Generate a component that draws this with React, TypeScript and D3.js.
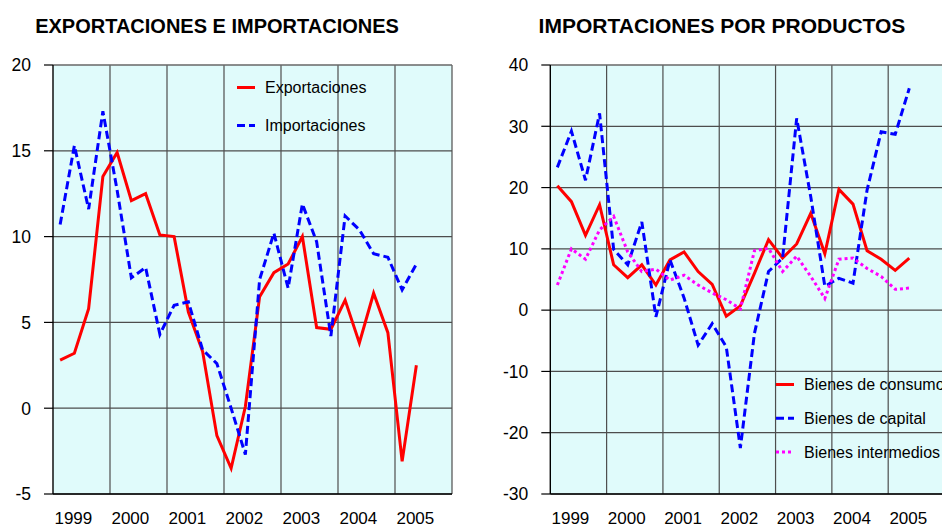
import React from 'react';
import * as d3 from 'd3';

const years = ['1999', '2000', '2001', '2002', '2003', '2004', '2005'];
const quarterNames = ['I', 'II', 'III', 'IV'];
const quarters: string[] = [];
years.forEach(y => quarterNames.forEach(q => quarters.push(`${y}-${q}`)));

const leftTicks = [-5, 0, 5, 10, 15, 20];
const rightTicks = [-30, -20, -10, 0, 10, 20, 30, 40];

const exportaciones = [2.8, 3.2, 5.8, 13.5, 14.9, 12.1, 12.5, 10.1, 10.0, 5.6, 3.3, -1.6, -3.5, 0.1, 6.5, 7.9, 8.4, 10.0, 4.7, 4.6, 6.3, 3.8, 6.7, 4.4, -3.1, 2.5];
const importaciones = [10.7, 15.3, 11.6, 17.3, 12.7, 7.6, 8.2, 4.3, 6.0, 6.2, 3.4, 2.6, 0.0, -2.7, 7.5, 10.2, 7.0, 11.9, 9.7, 4.2, 11.2, 10.4, 9.0, 8.8, 6.9, 8.4];

const consumo = [20.3, 17.7, 12.2, 17.2, 7.4, 5.3, 7.4, 4.1, 8.2, 9.5, 6.3, 4.2, -1.0, 0.7, 6.0, 11.5, 8.5, 10.8, 15.8, 9.2, 19.7, 17.3, 9.7, 8.3, 6.5, 8.5];
const capital = [23.3, 29.2, 21.2, 32.1, 9.9, 7.4, 14.4, -1.1, 8.2, 2.0, -5.7, -2.2, -6.0, -22.5, -3.8, 6.3, 8.5, 31.3, 18.5, 3.9, 5.2, 4.4, 19.6, 29.1, 28.7, 36.2];
const intermedios = [4.1, 10.0, 8.3, 13.1, 15.3, 9.5, 6.3, 6.7, 4.9, 5.7, 4.1, 2.8, 1.7, 0.2, 9.7, 10.1, 6.3, 8.8, 5.5, 1.9, 8.3, 8.5, 6.8, 5.5, 3.4, 3.6];

const FONT = '"Liberation Sans", Arial, Helvetica, sans-serif';

type Series = { name: string; values: number[]; color: string; dash?: string };

interface PanelProps {
  title: string;
  titleX: number;
  titleSize: number;
  x0: number;
  x1: number;
  y0: number;
  y1: number;
  domain: [number, number];
  ticks: number[];
  series: Series[];
  legendX: number;
  legendY: number;
  legendGap: number;
}

function Panel(p: PanelProps) {
  const x = d3.scaleBand<string>().domain(quarters).range([p.x0, p.x1]).padding(0);
  const y = d3.scaleLinear().domain(p.domain).range([p.y1, p.y0]);
  const bw = x.bandwidth();
  const cx = (i: number) => (x(quarters[i]) as number) + bw / 2;
  const line = d3.line<number>().x((_, i) => cx(i)).y(v => y(v));
  const gridColor = '#4d4d4d';
  const yearBounds = years.map(yr => x(`${yr}-I`) as number).slice(1);
  return (
    <g>
      <text x={p.titleX} y={33} textAnchor="middle" fontFamily={FONT} fontWeight="bold" fontSize={p.titleSize} fill="#000">{p.title}</text>
      <rect x={p.x0} y={p.y0} width={p.x1 - p.x0} height={p.y1 - p.y0} fill="#e0fbfb" stroke="none" />
      {p.ticks.map(t => (
        <line key={'h' + t} x1={p.x0} x2={p.x1} y1={y(t)} y2={y(t)} stroke={gridColor} strokeWidth={1.2} />
      ))}
      {yearBounds.map((b, k) => (
        <line key={'v' + k} x1={b} x2={b} y1={p.y0} y2={p.y1} stroke={gridColor} strokeWidth={1.2} />
      ))}
      <line x1={p.x1} x2={p.x1} y1={p.y0} y2={p.y1} stroke={gridColor} strokeWidth={1.2} />
      <line x1={p.x0} x2={p.x1} y1={p.y0} y2={p.y0} stroke="#777" strokeWidth={1.2} />
      <line x1={p.x0} x2={p.x0} y1={p.y0} y2={p.y1} stroke="#000" strokeWidth={1.4} />
      <line x1={p.x0} x2={p.x1} y1={p.y1} y2={p.y1} stroke="#000" strokeWidth={1.4} />
      {p.ticks.map(t => (
        <g key={'t' + t}>
          <line x1={p.x0 - 9} x2={p.x0} y1={y(t)} y2={y(t)} stroke="#000" strokeWidth={1.2} />
          <text x={p.x0 - 22} y={y(t)} dy="0.36em" textAnchor="end" fontFamily={FONT} fontSize={17.5} fill="#000">{t}</text>
        </g>
      ))}
      {years.map(yr => (
        <text key={'x' + yr} x={cx(quarters.indexOf(`${yr}-II`)) - 1} y={523.5} textAnchor="middle" fontFamily={FONT} fontSize={17} fill="#000">{yr}</text>
      ))}
      {p.series.map(s => (
        <path key={s.name} d={line(s.values) || ''} fill="none" stroke={s.color} strokeWidth={3} strokeDasharray={s.dash} strokeLinejoin="miter" />
      ))}
      {p.series.map((s, k) => (
        <g key={'l' + s.name}>
          <line x1={p.legendX} x2={p.legendX + 18} y1={p.legendY + k * p.legendGap} y2={p.legendY + k * p.legendGap} stroke={s.color} strokeWidth={3} strokeDasharray={s.dash} />
          <text x={p.legendX + 28} y={p.legendY + k * p.legendGap} dy="0.36em" fontFamily={FONT} fontSize={16} fill="#000">{s.name}</text>
        </g>
      ))}
    </g>
  );
}

export default function App() {
  return (
    <svg width={942} height={527} style={{ position: 'absolute', left: 0, top: 0, background: '#fff' }}>
      <Panel
        title="EXPORTACIONES E IMPORTACIONES"
        titleX={217}
        titleSize={20}
        x0={53}
        x1={452}
        y0={65}
        y1={494}
        domain={[-5, 20]}
        ticks={leftTicks}
        series={[
          { name: 'Exportaciones', values: exportaciones, color: '#ff0000' },
          { name: 'Importaciones', values: importaciones, color: '#0000ff', dash: '8,4' },
        ]}
        legendX={237}
        legendY={87.5}
        legendGap={38}
      />
      <Panel
        title="IMPORTACIONES POR PRODUCTOS"
        titleX={722}
        titleSize={21}
        x0={550.3}
        x1={944.5}
        y0={65}
        y1={494}
        domain={[-30, 40]}
        ticks={rightTicks}
        series={[
          { name: 'Bienes de consumo', values: consumo, color: '#ff0000' },
          { name: 'Bienes de capital', values: capital, color: '#0000ff', dash: '8,4' },
          { name: 'Bienes intermedios', values: intermedios, color: '#ff00ff', dash: '3,3' },
        ]}
        legendX={776}
        legendY={384.5}
        legendGap={33.7}
      />
    </svg>
  );
}
